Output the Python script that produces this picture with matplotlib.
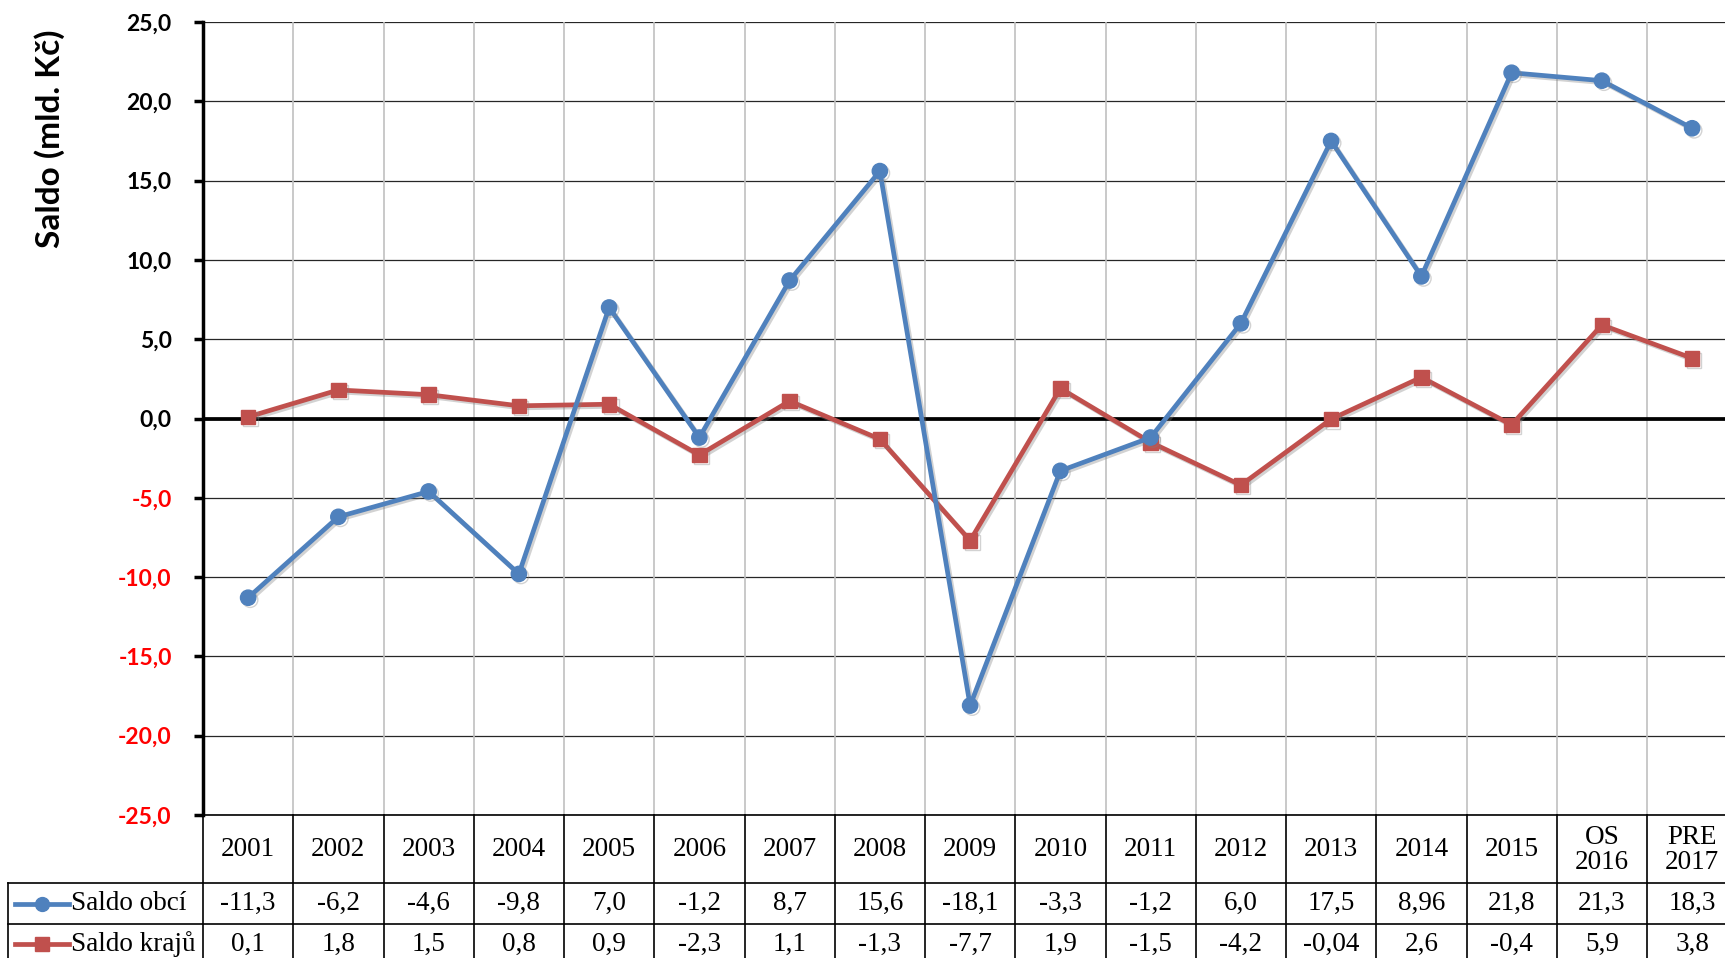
import numpy as np
import matplotlib.pyplot as plt
import matplotlib.patheffects as pe

categories = ["2001", "2002", "2003", "2004", "2005", "2006", "2007", "2008", "2009",
              "2010", "2011", "2012", "2013", "2014", "2015", "OS\n2016", "PRE\n2017"]
saldo_obci = [-11.3, -6.2, -4.6, -9.8, 7.0, -1.2, 8.7, 15.6, -18.1,
              -3.3, -1.2, 6.0, 17.5, 8.96, 21.8, 21.3, 18.3]
saldo_kraju = [0.1, 1.8, 1.5, 0.8, 0.9, -2.3, 1.1, -1.3, -7.7,
               1.9, -1.5, -4.2, -0.04, 2.6, -0.4, 5.9, 3.8]
series_names = ["Saldo obcí", "Saldo krajů"]
yticks = np.arange(-25, 26, 5)

BLUE = '#4F81BD'
RED = '#C0504D'
W, H = 1725, 958
SERIF = ['Liberation Serif', 'DejaVu Serif']
SANS = ['Lato', 'DejaVu Sans']


def fmt(v):
    s = f"{v:.1f}" if round(v, 1) == v else f"{v:.2f}"
    return s.replace('.', ',')


fig = plt.figure(figsize=(W / 100, H / 100), dpi=100)

# plot area in pixels
left, top, bottom = 203, 22, 815
colw = 90.25
n = len(categories)
ax = fig.add_axes([left / W, (H - bottom) / H, n * colw / W, (bottom - top) / H])
x = np.arange(n) + 0.5

ax.set_xlim(0, n)
ax.set_ylim(-25, 25)
for yv in yticks:
    ax.axhline(yv, color='#262626', lw=0.9, zorder=1)
for xv in range(1, n):
    ax.axvline(xv, color='#C0C0C0', lw=1.2, zorder=1)
ax.axhline(0, color='black', lw=2.7, zorder=2)

shadow = [pe.SimpleLineShadow(offset=(1.5, -1.5), shadow_color='#808080', alpha=0.35), pe.Normal()]
ax.plot(x, saldo_obci, '-o', color=BLUE, lw=3.4, ms=11, zorder=4, clip_on=False,
        path_effects=shadow)
ax.plot(x, saldo_kraju, '-s', color=RED, lw=3.4, ms=10.5, zorder=3, clip_on=False,
        path_effects=shadow)

for s in ['top', 'right', 'bottom']:
    ax.spines[s].set_visible(False)
ax.spines['left'].set_linewidth(2.5)
ax.set_xticks([])
ax.set_yticks(yticks)
ax.set_yticklabels([fmt(float(v)) for v in yticks], family=SANS, fontweight='bold', fontsize=16.5)
ax.tick_params(axis='y', length=6.5, width=2.5, pad=16)
for lab, v in zip(ax.get_yticklabels(), yticks):
    lab.set_color('#FF0000' if v < 0 else 'black')

fig.text(50 / W, 1 - 139 / H, "Saldo (mld. Kč)", rotation=90, ha='center', va='center',
         family=SANS, fontweight='bold', fontsize=24)

# data table below the plot
tb = 964
tax = fig.add_axes([left / W, (H - tb) / H, n * colw / W, (tb - bottom) / H])
tax.set_xlim(0, n)
tax.set_ylim(tb - bottom, 0)
tax.axis('off')
leg_x = (8 - left) / colw
rows = [0, 68, 109, tb - bottom]
for i, yv in enumerate(rows):
    x0 = 0 if i == 0 else leg_x
    tax.plot([x0, n], [yv, yv], color='black', lw=1.2, clip_on=False)
for xv in range(n + 1):
    tax.plot([xv, xv], [0, rows[-1]], color='black', lw=1.2, clip_on=False)
tax.plot([leg_x, leg_x], [rows[1], rows[-1]], color='black', lw=1.2, clip_on=False)

for i, c in enumerate(categories):
    tax.text(i + 0.5, 35, c, ha='center', va='center', family=SERIF, fontsize=19.5,
             linespacing=0.95)
for r, (vals, col, mk) in enumerate([(saldo_obci, BLUE, 'o'), (saldo_kraju, RED, 's')]):
    yc = (rows[r + 1] + rows[r + 2]) / 2
    for i, v in enumerate(vals):
        tax.text(i + 0.5, yc, fmt(v), ha='center', va='center', family=SERIF, fontsize=19.5)
    lx0, lx1 = (15 - left) / colw, (69 - left) / colw
    tax.plot([lx0, lx1], [yc, yc], color=col, lw=3.4, clip_on=False)
    tax.plot([(lx0 + lx1) / 2], [yc], marker=mk, color=col, ms=10, clip_on=False)
    tax.text((71 - left) / colw, yc, series_names[r], ha='left', va='center',
             family=SERIF, fontsize=19.5)

fig.savefig('out.png', dpi=100)
